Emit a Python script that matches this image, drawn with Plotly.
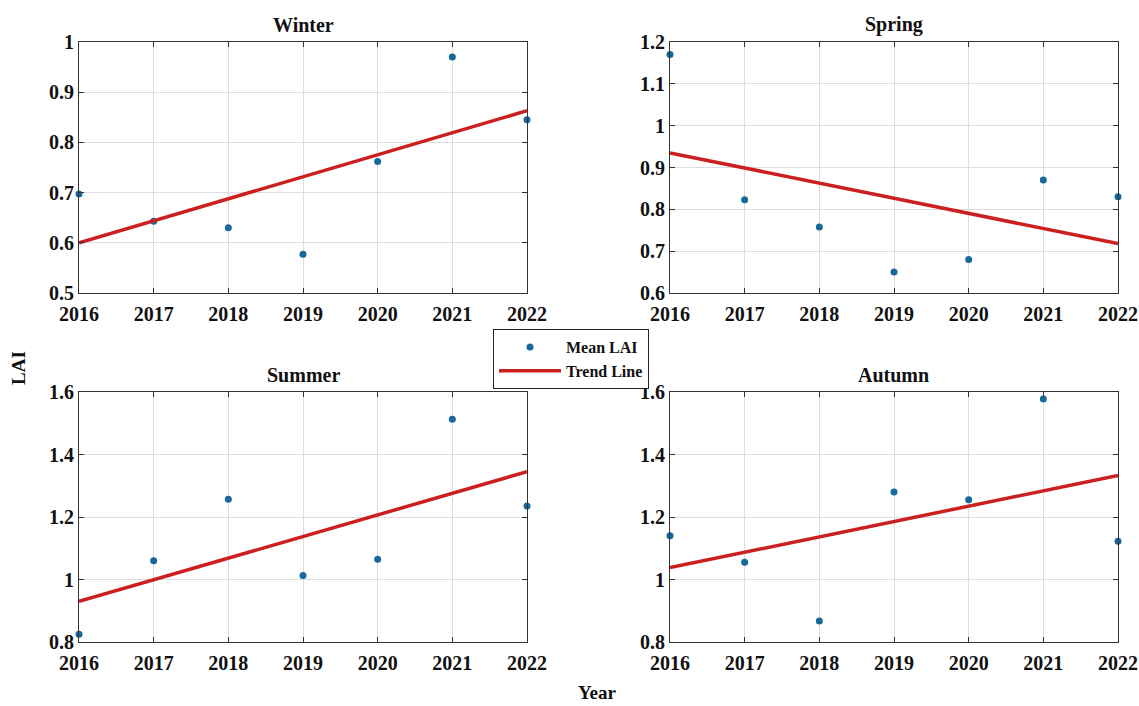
import plotly.graph_objects as go

years = [2016, 2017, 2018, 2019, 2020, 2021, 2022]

winter_lai = [0.697, 0.643, 0.630, 0.577, 0.762, 0.970, 0.845]
spring_lai = [1.170, 0.823, 0.758, 0.650, 0.680, 0.870, 0.830]
summer_lai = [0.825, 1.060, 1.257, 1.013, 1.065, 1.513, 1.235]
autumn_lai = [1.140, 1.055, 0.867, 1.280, 1.255, 1.578, 1.122]

trend_years = [2016, 2022]
winter_trend = [0.600, 0.863]
spring_trend = [0.935, 0.718]
summer_trend = [0.930, 1.345]
autumn_trend = [1.038, 1.333]

titles = ["Winter", "Spring", "Summer", "Autumn"]
y_ranges = [[0.5, 1.0], [0.6, 1.2], [0.8, 1.6], [0.8, 1.6]]
y_ticks = [
    [0.5, 0.6, 0.7, 0.8, 0.9, 1.0],
    [0.6, 0.7, 0.8, 0.9, 1.0, 1.1, 1.2],
    [0.8, 1.0, 1.2, 1.4, 1.6],
    [0.8, 1.0, 1.2, 1.4, 1.6],
]
y_ticktext = [
    ["0.5", "0.6", "0.7", "0.8", "0.9", "1"],
    ["0.6", "0.7", "0.8", "0.9", "1", "1.1", "1.2"],
    ["0.8", "1", "1.2", "1.4", "1.6"],
    ["0.8", "1", "1.2", "1.4", "1.6"],
]

series = [winter_lai, spring_lai, summer_lai, autumn_lai]
trends = [winter_trend, spring_trend, summer_trend, autumn_trend]

W, H = 1139, 706
FONT = "Liberation Serif"
MARK = "#15699b"
RED = "#cc1f1f"

# pixel boxes (left, right, top, bottom)
boxes = [(79, 527, 42, 293), (670, 1118, 42, 293), (79, 527, 392, 642), (670, 1118, 392, 642)]

fig = go.Figure()
layout = dict(
    width=W, height=H,
    margin=dict(l=0, r=0, t=0, b=0, autoexpand=False),
    paper_bgcolor="white", plot_bgcolor="white",
    font=dict(family=FONT, color="black"),
    showlegend=True,
)
annotations = []

for i in range(4):
    xa = "x" if i == 0 else f"x{i+1}"
    ya = "y" if i == 0 else f"y{i+1}"
    l, r, t, b = boxes[i]
    fig.add_trace(go.Scatter(
        x=years, y=series[i], mode="markers", name="Mean LAI",
        marker=dict(color=MARK, size=7), xaxis=xa, yaxis=ya,
        showlegend=(i == 0), cliponaxis=False,
    ))
    fig.add_trace(go.Scatter(
        x=trend_years, y=trends[i], mode="lines", name="Trend Line",
        line=dict(color=RED, width=3.5), xaxis=xa, yaxis=ya,
        showlegend=(i == 0), cliponaxis=False,
    ))
    axkey_x = "xaxis" if i == 0 else f"xaxis{i+1}"
    axkey_y = "yaxis" if i == 0 else f"yaxis{i+1}"
    layout[axkey_x] = dict(
        domain=[l / W, r / W], anchor=ya, range=[2016, 2022],
        tickvals=years, ticktext=[str(y) for y in years],
        showgrid=True, gridcolor="#dddddd", gridwidth=1,
        showline=True, linecolor="#333333", linewidth=1.2, mirror="ticks",
        ticks="inside", ticklen=5, tickcolor="#333333",
        tickfont=dict(family=FONT, size=20, color="#111111", weight="bold"),
        ticklabelstandoff=3,
        zeroline=False, fixedrange=True, automargin=False,
    )
    layout[axkey_y] = dict(
        domain=[1 - b / H, 1 - t / H], anchor=xa, range=y_ranges[i],
        tickvals=y_ticks[i], ticktext=y_ticktext[i],
        showgrid=True, gridcolor="#dddddd", gridwidth=1,
        showline=True, linecolor="#333333", linewidth=1.2, mirror="ticks",
        ticks="inside", ticklen=5, tickcolor="#333333",
        tickfont=dict(family=FONT, size=20, color="#111111", weight="bold"),
        zeroline=False, fixedrange=True, automargin=False,
    )
    annotations.append(dict(
        text=f"<b>{titles[i]}</b>", x=(l + r) / 2 / W, y=1 - (t - 4) / H,
        xref="paper", yref="paper", xanchor="center", yanchor="bottom",
        showarrow=False, font=dict(family=FONT, size=20, color="#111111"),
    ))

annotations.append(dict(
    text="<b>LAI</b>", x=18 / W, y=1 - 368 / H, xref="paper", yref="paper",
    xanchor="center", yanchor="middle", textangle=-90, showarrow=False,
    font=dict(family=FONT, size=19, color="#111111"),
))
annotations.append(dict(
    text="<b>Year</b>", x=597 / W, y=1 - 692 / H, xref="paper", yref="paper",
    xanchor="center", yanchor="middle", showarrow=False,
    font=dict(family=FONT, size=19, color="#111111"),
))

layout["annotations"] = annotations
layout["legend"] = dict(
    x=493 / W, y=1 - 329 / H, xanchor="left", yanchor="top",
    bgcolor="white", bordercolor="#222222", borderwidth=1,
    font=dict(family=FONT, size=16, color="#111111", weight="bold"),
    itemwidth=62, tracegroupgap=0,
)
fig.update_layout(**layout)
fig.write_html("out.html")
